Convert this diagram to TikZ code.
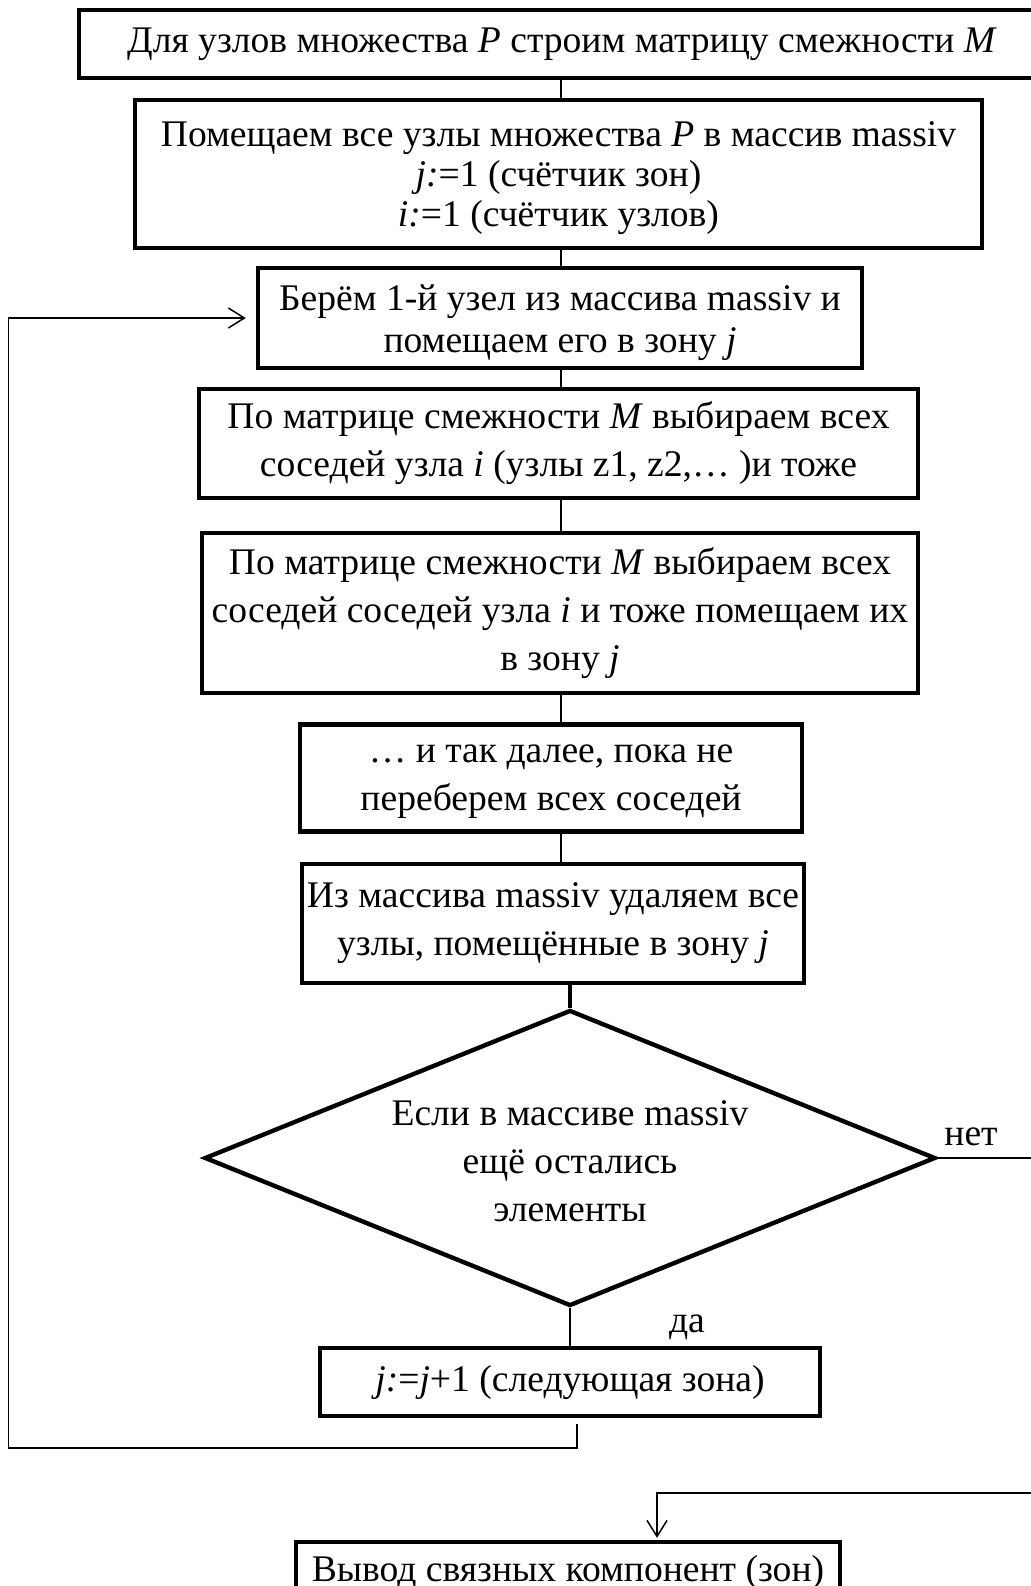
\documentclass[tikz,border=0pt]{standalone}
\usepackage{fontspec}
\setmainfont{Liberation Serif}
\usetikzlibrary{arrows.meta,shapes.geometric,calc}
\begin{document}
\begin{tikzpicture}[x=0.5pt,y=-0.5pt,
  box/.style={draw,line width=2.2pt,rectangle,inner sep=0pt,align=center,font=\fontsize{18.8}{24}\selectfont},
  conn/.style={line width=0.75pt},
  thickconn/.style={line width=2.2pt},
  arr/.style={conn,-{Straight Barb[length=8pt,width=10pt,line width=0.75pt]}},
  lbl/.style={inner sep=0pt,font=\fontsize{18.8}{24}\selectfont}
]
\useasboundingbox (0,0) rectangle (1030,1586);
\fill[white] (0,0) rectangle (1030,1586);

\node[box,minimum width=483pt,minimum height=34pt] (b1) at (562,44)
  {Для узлов множества \textit{P} строим матрицу смежности \textit{M}};
\node[box,minimum width=423.5pt,minimum height=74pt,font=\fontsize{18.8}{20}\selectfont] (b2) at (558.5,174)
  {\rule{0pt}{16.5pt}Помещаем все узлы множества \textit{P} в массив massiv\\\textit{j:}=1 (счётчик зон)\\\textit{i:}=1 (счётчик узлов)};
\node[box,minimum width=302pt,minimum height=50pt,font=\fontsize{18.8}{21}\selectfont] (b3) at (560,318)
  {\rule{0pt}{18pt}Берём 1-й узел из массива massiv и\\помещаем его в зону \textit{j}};
\node[box,minimum width=359.5pt,minimum height=54.5pt] (b4) at (558.5,443.5)
  {По матрице смежности \textit{M} выбираем всех\\соседей узла \textit{i} (узлы z1, z2,… )и тоже};
\node[box,minimum width=358pt,minimum height=80pt] (b5) at (560,613)
  {По матрице смежности \textit{M} выбираем всех\\соседей соседей узла \textit{i} и тоже помещаем их\\в зону \textit{j}};
\node[box,minimum width=251pt,minimum height=53.5pt] (b6) at (551,778)
  {\rule{0pt}{12.5pt}… и так далее, пока не\\переберем всех соседей};
\node[box,minimum width=251pt,minimum height=59.5pt] (b7) at (553,923.5)
  {Из массива massiv удаляем все\\узлы, помещённые в зону \textit{j}};
\node[draw,diamond,line width=2.2pt,inner sep=0pt,aspect=2.47,minimum width=365.5pt,minimum height=148pt,align=center,font=\fontsize{18.8}{24}\selectfont] (d) at (570,1158)
  {\rule{0pt}{16pt}Если в массиве massiv\\ещё остались\\элементы};
\node[lbl] (no) at (971,1137) {нет};
\node[lbl] (yes) at (687,1327) {да};
\node[box,minimum width=250pt,minimum height=34pt] (b8) at (570,1382)
  {\textit{j:}=\textit{j}+1 (следующая зона)};
\node[box,minimum width=272pt,minimum height=36pt] (b9) at (568,1578)
  {\raisebox{10pt}{Вывод связных компонент (зон)}};

\coordinate (cx) at (561,0);
\coordinate (L) at (8.5,0);
\coordinate (R) at (1040,1493);

\draw[conn] (b1.south -| cx) -- (b2.north -| cx);
\draw[conn] (b2.south -| cx) -- (b3.north -| cx);
\draw[conn] (b3.south -| cx) -- (b4.north -| cx);
\draw[conn] (b4.south -| cx) -- (b5.north -| cx);
\draw[conn] (b5.south -| cx) -- (b6.north -| cx);
\draw[conn] (b6.south -| cx) -- (b7.north -| cx);
\draw[thickconn] (b7.south -| d.north) -- (d.north);
\draw[conn] (d.south) -- (b8.north);
\draw[arr] ([xshift=3.5pt,yshift=-3pt]b8.south) -- ++(0,24) -| (L |- b3.west) -- ([xshift=-5pt]b3.west);
\draw[arr] (d.east) -- (d.east -| R) -- (R) -| ([xshift=44.5pt,yshift=1pt]b9.north);
\end{tikzpicture}
\end{document}
